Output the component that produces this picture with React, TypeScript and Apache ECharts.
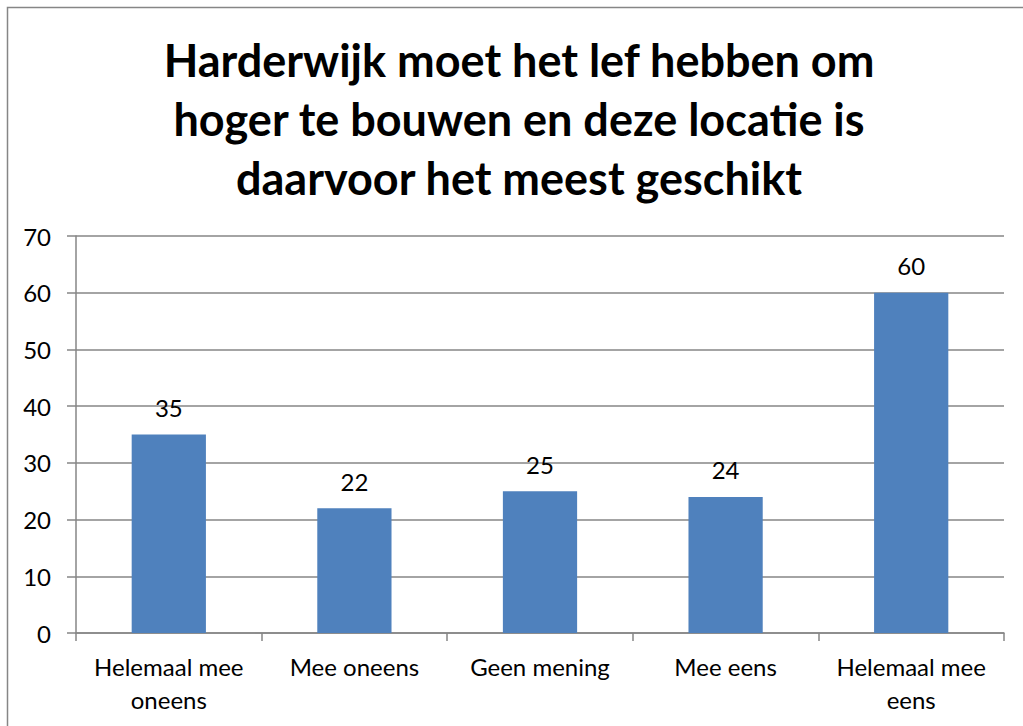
import React, { useEffect, useRef } from "react";
import * as echarts from "echarts";

const titleLines = [
  "Harderwijk moet het lef hebben om",
  "hoger te bouwen en deze locatie is",
  "daarvoor het meest geschikt",
];
const categories = [
  "Helemaal mee\noneens",
  "Mee oneens",
  "Geen mening",
  "Mee eens",
  "Helemaal mee\neens",
];
const values = [35, 22, 25, 24, 60];
const yMin = 0;
const yMax = 70;
const yInterval = 10;

const FONT = "Lato";

export default function App() {
  const ref = useRef<HTMLDivElement>(null);
  useEffect(() => {
    if (!ref.current) return;
    const chart = echarts.init(ref.current, null, { renderer: "svg" });
    chart.setOption({
      animation: false,
      backgroundColor: "#ffffff",
      title: {
        text: titleLines.join("\n"),
        left: 519,
        textAlign: "center",
        top: 30,
        padding: 0,
        textStyle: {
          fontFamily: FONT,
          fontWeight: "bold",
          fontSize: 45,
          lineHeight: 59,
          color: "#000000",
        },
      },
      graphic: [
        {
          type: "rect",
          shape: { x: 7.5, y: 7.5, width: 1200, height: 1000 },
          style: { fill: "none", stroke: "#868686", lineWidth: 1.5 },
          z: 100,
          silent: true,
        },
      ],
      grid: { left: 76, right: 19, top: 236, bottom: 93, containLabel: false },
      xAxis: {
        type: "category",
        data: categories,
        axisLine: { show: true, lineStyle: { color: "#868686", width: 1.5 } },
        axisTick: {
          show: true,
          alignWithLabel: false,
          length: 8,
          lineStyle: { color: "#868686", width: 1.5 },
        },
        axisLabel: {
          fontFamily: FONT,
          fontSize: 24,
          color: "#000000",
          lineHeight: 33,
          margin: 17,
          interval: 0,
        },
      },
      yAxis: {
        type: "value",
        min: yMin,
        max: yMax,
        interval: yInterval,
        axisLine: { show: true, lineStyle: { color: "#868686", width: 1.5 } },
        axisTick: { show: true, length: 9, lineStyle: { color: "#868686", width: 1.5 } },
        splitLine: { show: true, lineStyle: { color: "#868686", width: 1.5 } },
        axisLabel: {
          fontFamily: FONT,
          fontSize: 24,
          color: "#000000",
          margin: 25,
        },
      },
      series: [
        {
          type: "bar",
          data: values,
          barWidth: "40%",
          itemStyle: { color: "#4F81BD" },
          label: {
            show: true,
            position: "top",
            distance: 15,
            fontFamily: FONT,
            fontSize: 24,
            color: "#000000",
          },
        },
      ],
    });
    return () => chart.dispose();
  }, []);
  return (
    <div
      ref={ref}
      style={{ position: "absolute", left: 0, top: 0, width: 1023, height: 726 }}
    />
  );
}
